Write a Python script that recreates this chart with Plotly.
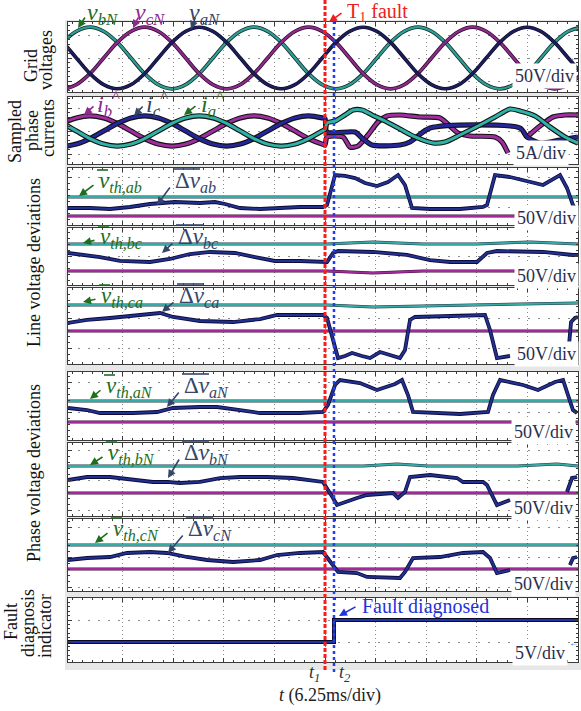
import plotly.graph_objects as go

W, H = 581, 711

# ------------------------------------------------------------------ data
# time axis in ms (6.25 ms/div); fault and diagnosis instants
t1_fault = 31.25
t2_diag = 32.36

# grid voltages (V)
t_grid = [-2.84, -1.15, 0.54, 2.22, 3.91, 5.6, 7.29, 8.97, 10.66, 12.35, 14.04, 15.72, 17.41, 19.1,
          20.79, 22.47, 24.16, 25.85, 27.54, 29.22, 30.91, 32.6, 34.29, 35.97, 37.66, 39.35, 41.04,
          42.72, 44.41, 46.1, 47.79, 49.47, 51.16, 52.85, 54.54, 56.22, 57.91, 59.6, 61.29, 62.97]
v_bN = [0, 34, 58, 67, 58, 34, 0, -34, -58, -67, -58, -34, 0, 34, 58, 67, 58, 34, 0, -34,
        -58, -67, -58, -34, 0, 34, 58, 67, 58, 34, 0, -34, -58, -67, -58, -34, 0, 34, 58, 67]
v_cN = [-58, -67, -58, -34, 0, 34, 58, 67, 58, 34, 0, -34, -58, -67, -58, -34, 0, 34, 58, 67,
        58, 34, 0, -34, -58, -67, -58, -34, 0, 34, 58, 67, 58, 34, 0, -34, -58, -67, -58, -34]
v_aN = [58, 34, 0, -34, -58, -67, -58, -34, 0, 34, 58, 67, 58, 34, 0, -34, -58, -67, -58, -34,
        0, 34, 58, 67, 58, 34, 0, -34, -58, -67, -58, -34, 0, 34, 58, 67, 58, 34, 0, -34]

# sampled phase currents (A)
t_ia = [-2.84, -1.15, 0.54, 2.22, 3.91, 5.6, 7.29, 8.97, 10.66, 12.35, 14.04, 15.72, 17.41, 19.1,
        20.79, 22.47, 24.16, 25.85, 27.54, 29.22, 30.91, 31.25, 31.5, 32.49, 33.72, 34.71, 35.82,
        37.06, 38.66, 40.51, 42.37, 44.59, 46.07, 47.92, 50.4, 52.25, 54.1, 55.34, 57.19, 59.04,
        60.89, 62.5]
i_a = [2.85, 1.65, 0, -1.65, -2.85, -3.3, -2.85, -1.65, 0, 1.65, 2.85, 3.3, 2.85, 1.65, 0, -1.65,
       -2.85, -3.3, -2.85, -1.65, 0, 0.35, 1.74, 2.17, 3.48, 4.57, 4.57, 3.48, 2.17, 0.43, -1.3,
       -2.61, -2.39, -0.87, 1.3, 3.04, 4.78, 4.35, 3.26, 0.87, -1.3, -2.61]
t_ib = [-2.84, -1.15, 0.54, 2.22, 3.91, 5.6, 7.29, 8.97, 10.66, 12.35, 14.04, 15.72, 17.41, 19.1,
        20.79, 22.47, 24.16, 25.85, 27.54, 29.22, 30.91, 31.25, 31.5, 33.47, 34.34, 35.33, 36.56,
        37.8, 38.91, 40.51, 42.98, 45.45, 46.94, 47.68, 49.16, 52.25, 53.11, 53.85, None, 56.2,
        57.81, 59.41, 60.89, 62.5]
i_b = [0, 1.65, 2.85, 3.3, 2.85, 1.65, 0, -1.65, -2.85, -3.3, -2.85, -1.65, 0, 1.65, 2.85, 3.3,
       2.85, 1.65, 0, -1.65, -2.85, -3.0, -1.3, -1.3, -3.48, -3.26, -0.87, 1.96, 3.26, 3.48, 3.04,
       2.83, 0.65, -0.43, -1.09, -1.3, -2.39, -4.78, None, -1.3, 1.09, 3.04, 3.48, 3.48]
t_ic = [-2.84, -1.15, 0.54, 2.22, 3.91, 5.6, 7.29, 8.97, 10.66, 12.35, 14.04, 15.72, 17.41, 19.1,
        20.79, 22.47, 24.16, 25.85, 27.54, 29.22, 30.91, 31.25, 31.5, 34.96, 35.82, 37.06, 40.51,
        41.75, 44.22, 55.34, 56.2, 57.81, 60.28, 62.5]
i_c = [-2.85, -3.3, -2.85, -1.65, 0, 1.65, 2.85, 3.3, 2.85, 1.65, 0, -1.65, -2.85, -3.3, -2.85,
       -1.65, 0, 1.65, 2.85, 3.3, 2.85, 2.67, -0.22, -0.22, -1.52, -3.04, -3.04, -2.39, 0.65, 0.65,
       -1.3, -2.61, -1.96, -1.3]

# line voltage deviations (V)
t_dv_ab = [-0.5, 2.22, 4.69, 7.16, 9.63, 10.87, 12.72, 15.81, 17.66, 18.9, 20.75, 23.22, 25.69,
           28.16, 31.0, 31.5, 32.49, 33.72, 34.96, 36.19, 37.67, 39.03, 40.27, 41.13, 42.0, 44.22,
           47.92, 50.77, 51.26, 52.25, 54.1, 55.71, 58.18, 60.28, 61.14, 61.88, 62.13]
dv_ab = [-1.7, -1.7, -3.3, 0, 5, 6.7, 8.3, 6.7, 8.3, 5, -1.7, -3.3, -1.7, 0, 0, 3.3, 53.3, 51.7,
         48.3, 40, 35, 41.7, 53.3, 36.7, -1.7, -3.3, -3.3, 0, 3.3, 53.3, 50, 45, 36.7, 53.3, 31.7,
         3.3, -1.7]
t_dv_bc = [-0.5, 3.46, 5.93, 9.63, 12.1, 14.58, 17.05, 20.13, 22.6, 25.07, 28.16, 31.0, 31.5,
           32.24, 32.86, 37.18, 41.38, 44.22, 46.69, 50.02, 51.26, 52.49, 58.18, 61.88, 62.5]
dv_bc = [5, -1.7, -8.3, -10, -5, 3.3, 6.7, 5, -1.7, -8.3, -8.3, -10, -10, 5, 8.3, 6.7, 1.7, -6.7,
         -10, -10, 5, 8.3, 6.7, 1.7, 1.7]
t_dv_ca = [-0.5, 1.85, 4.69, 8.4, 10.87, 12.48, 15.81, 19.89, 23.22, 25.32, 28.16, 31.0, 31.5,
           32.24, 32.86, 33.72, 34.59, 35.82, 36.81, 38.04, 39.28, 40.51, 41.13, 41.75, 42.37,
           45.45, 47.92, 51.01, 51.63, 52.49, 54.1, None, 61.39, 61.64, 62.13, 62.5]
dv_ca = [-8.3, -3.3, 0, 5, 8.3, 1.7, -5, -6.7, -1.7, 5, 5, 5, 0, -36.7, -66.7, -63.3, -58.3,
         -63.3, -66.7, -56.7, -61.7, -66.7, -53.3, -3.3, 1.7, 3.3, 3.3, 5, -20, -66.7, -63.3, None,
         -45, -6.7, 0, 1.7]

# phase voltage deviations (V)
t_dv_aN = [-0.5, 1.85, 3.46, 7.53, 10.5, 12.48, 15.81, 17.91, 20.75, 23.22, 28.16, 31.0, 31.62,
           32.49, 33.1, 34.34, 35.57, 37.67, 39.9, 40.76, 41.5, 42.12, 45.45, 47.92, 51.38, 52.0,
           52.87, 55.71, 57.56, 59.66, 60.65, 61.26, 61.88, 62.38]
dv_aN = [6.7, 3.3, -1.7, -1.7, 0, 6.7, 8.3, 8.3, 3.3, -1.7, -1.7, 0, 11.7, 45, 53.3, 50, 48.3,
         36.7, 46.7, 53.3, 28.3, 0, -1.7, -3.3, 0, 28.3, 53.3, 45, 36.7, 50, 53.3, 28.3, 3.3, -1.7]
t_dv_bN = [-0.5, 1.85, 4.69, 7.53, 10.0, 11.73, 13.34, 15.81, 18.28, 20.75, 24.09, 27.3, 31.0,
           32.24, 32.73, 35.2, 36.44, 39.65, 40.27, 41.13, 41.75, 44.22, 47.55, 48.3, 50.77, 51.26,
           52.49, 54.1, None, 61.14, 61.76, 62.38]
dv_bN = [0, 5, 5, 0, -3.3, -3.3, -5, -3.3, 3.3, 5, 5, 3.3, -3.3, -30, -41.7, -30, -25, -21.7, -30,
         -20, 5, 8.3, 3.3, -3.3, -3.3, -8.3, -41.7, -33.3, None, -20, 3.3, 5]
t_dv_cN = [-0.5, 1.85, 4.69, 6.79, 9.63, 11.73, 14.2, 16.68, 19.89, 23.22, 25.32, 28.16, 31.0,
           32.24, 32.86, 35.2, 36.44, 40.51, 41.13, 42.12, 45.45, 48.3, 50.77, 51.63, 52.49, 54.1,
           None, 61.51, 61.88, 62.38]
dv_cN = [-5, -1.7, 0, 6.7, 8.3, 6.7, 0, -5, -8.3, -5, 3.3, 6.7, 8.3, -13.3, -25, -26.7, -33.3, -35,
         -25, -1.7, 0, 6.7, 8.3, -1.7, -26.7, -21.7, None, -13.3, -1.7, 0]

# thresholds (V)
t_flat = [-0.5, 62.5]
th_ab_hi = [16.7, 16.7]
th_ab_lo = [-15, -15]
t_th_bc_hi = [-0.5, 31.5, 37.18, 43.35, 50.0, 56.57, 62.5]
th_bc_hi = [20, 20, 23.3, 20, 20, 23.3, 20]
t_th_bc_lo = [-0.5, 31.5, 37.18, 43.35, 62.5]
th_bc_lo = [-25, -25, -28.3, -25, -25]
t_th_ca_hi = [-0.5, 31.5, 37.18, 50.0, 62.5]
th_ca_hi = [21.7, 21.7, 18.3, 21.7, 25]
th_ca_lo = [-21.7, -21.7]
th_aN_hi = [18.3, 18.3]
th_aN_lo = [-16.7, -16.7]
t_th_bN_hi = [-0.5, 36.0, 40.14, 44.0, 55.0, 59.91, 62.5]
th_bN_hi = [23.3, 23.3, 26.7, 23.3, 23.3, 26.7, 23.3]
th_bN_lo = [-21.7, -21.7]
th_cN_hi = [20, 20]
th_cN_lo = [-20, -20]

# fault diagnosis indicator (V)
t_fd = [-0.5, 32.36, 32.36, 62.5]
fd = [0, 0, 5, 5]

# ------------------------------------------------------------------ layout helpers
def px(x):
    return x / W


def py(y):
    return 1 - y / H


X0_PX, X1_PX = 68, 578
T_START = -4 / 8.096  # time at the left frame edge
FONT = "Liberation Serif"

# panel geometry: top, bottom, zero line (px), px per div, units per div
panels = [
    dict(top=22, bottom=92, zero=58, ppd=23, upd=50),
    dict(top=97, bottom=164, zero=131, ppd=23, upd=5),
    dict(top=168, bottom=225, zero=207, ppd=30, upd=50),
    dict(top=228, bottom=285, zero=256, ppd=30, upd=50),
    dict(top=288, bottom=364, zero=318, ppd=30, upd=50),
    dict(top=372, bottom=440, zero=412, ppd=30, upd=50),
    dict(top=443, bottom=516, zero=480, ppd=30, upd=50),
    dict(top=519, bottom=591, zero=557, ppd=30, upd=50),
    dict(top=598, bottom=662, zero=642, ppd=22, upd=5),
]

fig = go.Figure()
lay = {}
AX = "#3a3a3a"
for i, p in enumerate(panels, start=1):
    xs = "" if i == 1 else str(i)
    ymax = (p["zero"] - p["top"]) / p["ppd"] * p["upd"]
    ymin = (p["zero"] - p["bottom"]) / p["ppd"] * p["upd"]
    xa = dict(domain=[px(X0_PX), px(X1_PX)], range=[T_START, 62.5], anchor="y" + xs,
              showticklabels=False, tickmode="array", tickvals=[6.25 * k for k in range(1, 10)],
              showgrid=True, gridcolor="#8c8c8c", griddash="1px,3px", gridwidth=1,
              ticks="inside", ticklen=4, tickcolor=AX,
              minor=dict(tickmode="linear", tick0=0, dtick=1.25, ticks="inside", ticklen=2,
                         tickcolor=AX, showgrid=False),
              showline=True, linecolor=AX, linewidth=1, mirror="allticks", zeroline=False,
              fixedrange=True)
    if i > 1:
        xa["matches"] = "x"
    ya = dict(domain=[py(p["bottom"]), py(p["top"])], range=[ymin, ymax], anchor="x" + xs,
              showticklabels=False, tickmode="linear", tick0=0, dtick=p["upd"],
              showgrid=True, gridcolor="#8c8c8c", griddash="2px,8px", gridwidth=1,
              ticks="inside", ticklen=4, tickcolor=AX,
              minor=dict(tickmode="linear", tick0=0, dtick=p["upd"] / 5, ticks="inside",
                         ticklen=2, tickcolor=AX, showgrid=False),
              showline=True, linecolor=AX, linewidth=1, mirror="allticks", zeroline=False,
              fixedrange=True)
    lay["xaxis" + xs] = xa
    lay["yaxis" + xs] = ya
fig.update_layout(**lay)


def wave(t, v, panel, color, w, outline=None, ow=None, shape="linear", smoothing=1.0):
    xs = "" if panel == 1 else str(panel)
    if outline:
        fig.add_trace(go.Scatter(x=t, y=v, xaxis="x" + xs, yaxis="y" + xs, mode="lines",
                                 line=dict(color=outline, width=ow, shape=shape,
                                           smoothing=smoothing),
                                 hoverinfo="skip", showlegend=False))
    fig.add_trace(go.Scatter(x=t, y=v, xaxis="x" + xs, yaxis="y" + xs, mode="lines",
                             line=dict(color=color, width=w, shape=shape, smoothing=smoothing),
                             hoverinfo="skip", showlegend=False))


TEAL = "#2e9f94"
PURPLE = "#8f2a8d"
NAVY = "#1d1d5c"
CUR_TEAL = "#30b2a7"
CUR_PURP = "#a02ea0"
CUR_NAVY = "#26269c"
DV = "#22308f"
TH_C = "#35aba5"
TH_P = "#a3289b"

# grid voltages
wave(t_grid, v_bN, 1, TEAL, 2.2, "#142a2a", 3.8, "spline", 1.0)
wave(t_grid, v_cN, 1, PURPLE, 2.2, "#2a0f2a", 3.8, "spline", 1.0)
wave(t_grid, v_aN, 1, NAVY, 2.4, "#0a0a22", 3.6, "spline", 1.0)
# currents
wave(t_ib, i_b, 2, CUR_PURP, 3.0, "#111111", 5.2, "spline", 0.7)
wave(t_ic, i_c, 2, CUR_NAVY, 3.0, "#111111", 5.2, "spline", 0.7)
wave(t_ia, i_a, 2, CUR_TEAL, 3.0, "#111111", 5.2, "spline", 0.7)
# line voltage deviations
wave(t_flat, th_ab_hi, 3, TH_C, 2.0, "#234", 3.0)
wave(t_flat, th_ab_lo, 3, TH_P, 2.0, "#3a103a", 3.0)
wave(t_dv_ab, dv_ab, 3, DV, 2.2, "#0c0c3a", 3.8)
wave(t_th_bc_hi, th_bc_hi, 4, TH_C, 2.0, "#234", 3.0)
wave(t_th_bc_lo, th_bc_lo, 4, TH_P, 2.0, "#3a103a", 3.0)
wave(t_dv_bc, dv_bc, 4, DV, 2.2, "#0c0c3a", 3.8)
wave(t_th_ca_hi, th_ca_hi, 5, TH_C, 2.0, "#234", 3.0)
wave(t_flat, th_ca_lo, 5, TH_P, 2.0, "#3a103a", 3.0)
wave(t_dv_ca, dv_ca, 5, DV, 2.2, "#0c0c3a", 3.8)
# phase voltage deviations
wave(t_flat, th_aN_hi, 6, TH_C, 2.0, "#234", 3.0)
wave(t_flat, th_aN_lo, 6, TH_P, 2.0, "#3a103a", 3.0)
wave(t_dv_aN, dv_aN, 6, DV, 2.2, "#0c0c3a", 3.8)
wave(t_th_bN_hi, th_bN_hi, 7, TH_C, 2.0, "#234", 3.0)
wave(t_flat, th_bN_lo, 7, TH_P, 2.0, "#3a103a", 3.0)
wave(t_dv_bN, dv_bN, 7, DV, 2.2, "#0c0c3a", 3.8)
wave(t_flat, th_cN_hi, 8, TH_C, 2.0, "#234", 3.0)
wave(t_flat, th_cN_lo, 8, TH_P, 2.0, "#3a103a", 3.0)
wave(t_dv_cN, dv_cN, 8, DV, 2.2, "#0c0c3a", 3.8)
# fault indicator
wave(t_fd, fd, 9, "#2233a8", 2.2, "#0a0a20", 4.0)

# ------------------------------------------------------------------ shapes
shapes = [dict(type="rect", xref="paper", yref="paper", x0=px(65), x1=1, y0=py(670), y1=py(20),
               fillcolor="#e7e7e7", line=dict(width=0), layer="below")]
for p in panels:
    shapes.append(dict(type="rect", xref="paper", yref="paper", x0=px(67), x1=px(580),
                       y0=py(p["bottom"] + 0.5), y1=py(p["top"] - 0.5), fillcolor="white",
                       line=dict(width=0), layer="below"))
shapes.append(dict(type="line", xref="x", yref="paper", x0=t1_fault, x1=t1_fault, y0=py(670),
                   y1=py(0), line=dict(color="#ff1a1a", width=3, dash="4px,2px")))
shapes.append(dict(type="line", xref="x", yref="paper", x0=t2_diag, x1=t2_diag, y0=py(672),
                   y1=py(20), line=dict(color="#1f3cff", width=2.5, dash="3px,3px")))

anns = []
GREEN_T = "#1e6e1e"
PURP_T = "#8e2a8e"
SLATE_T = "#34466a"
RED_T = "#ee2020"
BLUE_T = "#1f33dd"
DIV_T = "#2a2f4f"


def text(x, y, s, size, color, xanchor="left", yanchor="middle", angle=0, bg=None):
    anns.append(dict(x=px(x), y=py(y), xref="paper", yref="paper", text=s, showarrow=False,
                     font=dict(family=FONT, size=size, color=color), xanchor=xanchor,
                     yanchor=yanchor, textangle=angle, bgcolor=bg, borderpad=2))


def arrow(hx, hy, tx, ty, color):
    anns.append(dict(x=px(hx), y=py(hy), xref="paper", yref="paper", ax=tx - hx, ay=ty - hy,
                     text="", showarrow=True, arrowhead=2, arrowsize=1.0, arrowwidth=1.6,
                     arrowcolor=color))


def bar(x0, x1, y, color):
    shapes.append(dict(type="line", xref="paper", yref="paper", x0=px(x0), x1=px(x1), y0=py(y),
                       y1=py(y), line=dict(color=color, width=1.6)))


# top labels
text(84, 14, "<i>v</i><sub><i>bN</i></sub>", 24, GREEN_T)
arrow(78, 28, 86, 16, GREEN_T)
text(132, 14, "<i>v</i><sub><i>cN</i></sub>", 24, PURP_T)
arrow(133, 28, 139, 16, PURP_T)
text(186, 14, "<i>v</i><sub><i>aN</i></sub>", 24, SLATE_T)
arrow(191, 29, 196, 16, SLATE_T)
text(344, 13, "T<sub>1</sub> fault", 20, RED_T)
arrow(329, 22, 343, 12, RED_T)

text(94, 104, "<i>i</i><sub><i>b</i></sub><sup>^</sup>", 24, PURP_T)
arrow(84, 115, 95, 105, PURP_T)
text(143, 104, "<i>i</i><sub><i>c</i></sub><sup>^</sup>", 24, SLATE_T)
arrow(134, 116, 144, 105, SLATE_T)
text(198, 104, "<i>i</i><sub><i>a</i></sub><sup>^</sup>", 24, GREEN_T)
arrow(184, 115, 197, 105, GREEN_T)

# threshold / deviation labels: (v_th left x, delta left x, y, subscript, arrow heads)
dev_labels = [
    (96, 172, 182, "ab", (79, 196), (157, 205)),
    (97, 175, 238, "bc", (83, 243), (162, 253)),
    (98, 176, 297, "ca", (83, 302), (162, 312)),
    (103, 181, 387, "aN", (90, 399), (167, 407)),
    (105, 181, 454, "bN", (90, 465), (168, 478)),
    (110, 185, 530, "cN", (95, 543), (168, 553)),
]
for xv, xd, yc, sub, hv, hd in dev_labels:
    text(xv, yc, "<i>v</i><sub><i>th," + sub + "</i></sub>", 23, GREEN_T)
    bar(xv + 1, xv + 12, yc - 12, GREEN_T)
    arrow(hv[0], hv[1], xv - 1, yc + 2, GREEN_T)
    text(xd, yc, "Δ<i>v</i><sub><i>" + sub + "</i></sub>", 23, SLATE_T)
    bar(xd + 1, xd + 28, yc - 13, SLATE_T)
    arrow(hd[0], hd[1], xd - 1, yc + 4, SLATE_T)

text(359, 606, "Fault diagnosed", 20, BLUE_T)
arrow(339, 616, 357, 606, BLUE_T)

# scale labels
text(544, 76, "50V/div", 18, DIV_T, "center", bg="white")
text(541, 153, "5A/div", 18, DIV_T, "center", bg="white")
text(546, 218, "50V/div", 18, DIV_T, "center", bg="white")
text(546, 276, "50V/div", 18, DIV_T, "center", bg="white")
text(546, 354, "50V/div", 18, DIV_T, "center", bg="white")
text(543, 432, "50V/div", 18, DIV_T, "center", bg="white")
text(543, 508, "50V/div", 18, DIV_T, "center", bg="white")
text(543, 584, "50V/div", 18, DIV_T, "center", bg="white")
text(540, 653, "5V/div", 18, DIV_T, "center", bg="white")

# small reference arrows at the right edge
for yy in (58, 132, 642):
    text(574, yy, "←", 10, "#3355dd", "center")

# time labels
text(314, 673, "<i>t</i><sub><i>1</i></sub>", 18, "#333", "center")
text(345, 673, "<i>t</i><sub><i>2</i></sub>", 18, "#333", "center")
text(330, 695, "<i>t</i> (6.25ms/div)", 18, "#222", "center")

# side titles
SIDE = "#111"
text(31, 66, "Grid", 18, SIDE, "center", angle=-90)
text(46, 60, "voltages", 18, SIDE, "center", angle=-90)
text(15, 132, "Sampled", 18, SIDE, "center", angle=-90)
text(32, 131, "phase", 18, SIDE, "center", angle=-90)
text(48, 128, "currents", 18, SIDE, "center", angle=-90)
text(34, 263, "Line voltage deviations", 18, SIDE, "center", angle=-90)
text(34, 473, "Phase voltage deviations", 18, SIDE, "center", angle=-90)
text(11, 622, "Fault", 18, SIDE, "center", angle=-90)
text(28, 623, "diagnosis", 18, SIDE, "center", angle=-90)
text(45, 626, "indicator", 18, SIDE, "center", angle=-90)

fig.update_layout(width=W, height=H, margin=dict(l=0, r=0, t=0, b=0), paper_bgcolor="white",
                  plot_bgcolor="white", showlegend=False, font=dict(family=FONT),
                  shapes=shapes, annotations=anns)

fig.write_html("out.html", config={"displayModeBar": False},
               post_script="document.body.style.margin='0';document.body.style.overflow='hidden';")
